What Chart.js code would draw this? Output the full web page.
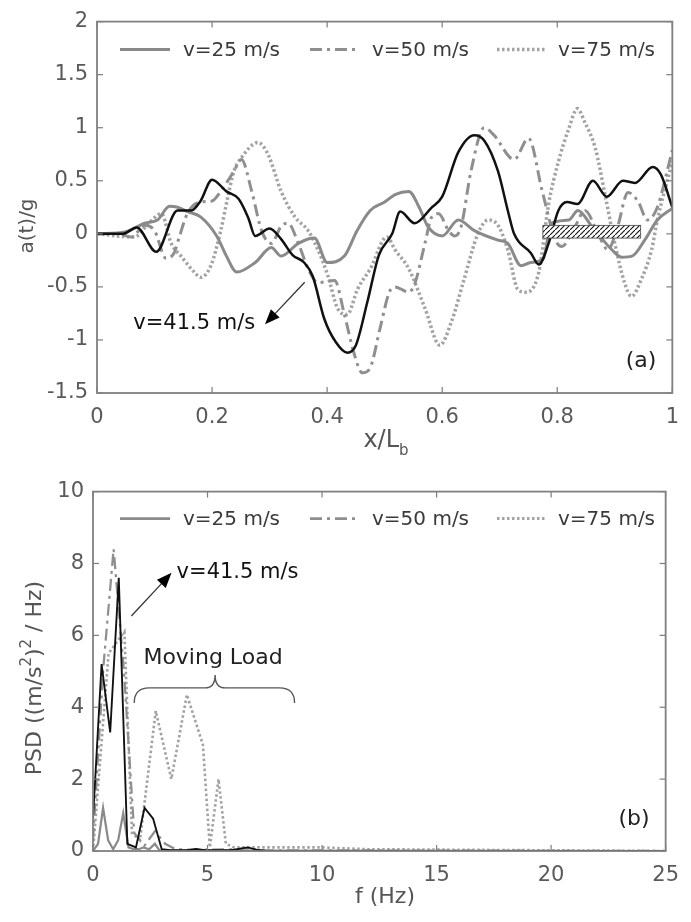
<!DOCTYPE html>
<html>
<head>
<meta charset="utf-8">
<script src="https://cdn.jsdelivr.net/npm/chart.js@4.4.0/dist/chart.umd.min.js"></script>
<style>
  body { margin: 0; background: #fff; }
  #wrap { position: relative; width: 691px; height: 922px; }
  .pane { position: absolute; left: 0; }
</style>
</head>
<body>
<div id="wrap">
  <canvas id="accel" class="pane" style="top:0" width="691" height="470"></canvas>
  <canvas id="psd" class="pane" style="top:470px" width="691" height="452"></canvas>
</div>
<script>
// ---- (a) acceleration along the bridge, x/Lb ----
var seriesNames = ['v=25 m/s', 'v=50 m/s', 'v=75 m/s', 'v=41.5 m/s'];

var accX25 = [0, 0.05, 0.083, 0.105, 0.126, 0.14, 0.157, 0.18, 0.208, 0.225, 0.243, 0.275, 0.303, 0.32, 0.35, 0.378, 0.40, 0.43, 0.452, 0.475, 0.50, 0.518, 0.542, 0.56, 0.575, 0.6, 0.628, 0.656, 0.697, 0.714, 0.737, 0.754, 0.775, 0.79, 0.82, 0.836, 0.86, 0.895, 0.912, 0.93, 0.952, 0.974, 1.0];
var accY25 = [0, 0.02, 0.1, 0.13, 0.26, 0.25, 0.21, 0.16, -0.02, -0.21, -0.36, -0.27, -0.13, -0.21, -0.09, -0.04, -0.27, -0.21, 0.03, 0.22, 0.30, 0.37, 0.40, 0.25, 0.07, -0.02, 0.13, 0.03, -0.06, -0.09, -0.30, -0.27, -0.24, 0.10, 0.13, 0.22, 0.07, -0.15, -0.22, -0.21, -0.06, 0.13, 0.24];

var accX50 = [0, 0.036, 0.06, 0.083, 0.1, 0.12, 0.134, 0.143, 0.157, 0.18, 0.2, 0.215, 0.238, 0.251, 0.269, 0.286, 0.303, 0.32, 0.332, 0.35, 0.367, 0.384, 0.413, 0.43, 0.447, 0.461, 0.475, 0.492, 0.508, 0.518, 0.542, 0.553, 0.57, 0.582, 0.594, 0.611, 0.622, 0.633, 0.65, 0.673, 0.69, 0.725, 0.75, 0.774, 0.797, 0.808, 0.831, 0.848, 0.871, 0.888, 0.905, 0.923, 0.94, 0.957, 0.974, 0.991, 1.0];
var accY50 = [0, 0, -0.03, 0.08, 0.03, -0.23, -0.18, -0.03, 0.19, 0.30, 0.31, 0.40, 0.59, 0.70, 0.40, 0.03, -0.09, 0.07, 0.10, -0.09, -0.33, -0.46, -0.44, -0.76, -1.13, -1.31, -1.26, -0.89, -0.55, -0.50, -0.55, -0.46, -0.09, 0.16, 0.19, 0.03, -0.02, 0.07, 0.59, 1.0, 0.93, 0.70, 0.90, 0.40, -0.06, -0.12, 0.07, 0.22, 0, -0.15, 0.07, 0.39, 0.31, 0.13, 0.25, 0.59, 0.79];

var accX75 = [0, 0.065, 0.09, 0.112, 0.129, 0.146, 0.169, 0.18, 0.198, 0.215, 0.226, 0.238, 0.25, 0.28, 0.298, 0.32, 0.344, 0.367, 0.384, 0.401, 0.418, 0.435, 0.453, 0.475, 0.504, 0.518, 0.542, 0.57, 0.596, 0.616, 0.638, 0.662, 0.68, 0.697, 0.714, 0.731, 0.745, 0.768, 0.785, 0.802, 0.82, 0.835, 0.848, 0.866, 0.883, 0.9, 0.917, 0.929, 0.946, 0.964, 0.974, 1.0];
var accY75 = [0, -0.03, 0.1, 0.19, -0.09, -0.21, -0.36, -0.41, -0.30, 0.03, 0.31, 0.59, 0.71, 0.86, 0.74, 0.40, 0.16, 0.03, -0.15, -0.39, -0.70, -0.76, -0.52, -0.33, -0.03, -0.15, -0.33, -0.70, -1.05, -0.83, -0.43, 0, 0.13, 0.08, -0.15, -0.52, -0.55, -0.36, 0.28, 0.68, 0.99, 1.18, 1.05, 0.81, 0.37, -0.09, -0.46, -0.59, -0.43, -0.15, 0.13, 0.68];

var accX415 = [0, 0.045, 0.069, 0.103, 0.14, 0.164, 0.18, 0.2, 0.225, 0.246, 0.263, 0.275, 0.30, 0.32, 0.34, 0.36, 0.375, 0.395, 0.415, 0.435, 0.45, 0.47, 0.49, 0.513, 0.527, 0.552, 0.582, 0.6, 0.628, 0.656, 0.673, 0.697, 0.714, 0.725, 0.754, 0.768, 0.785, 0.802, 0.817, 0.835, 0.862, 0.886, 0.914, 0.935, 0.966, 0.98, 1.0];
var accY415 = [0, 0, 0.06, -0.17, 0.22, 0.22, 0.31, 0.51, 0.40, 0.33, 0.15, -0.02, 0.05, -0.05, -0.2, -0.27, -0.4, -0.8, -1.02, -1.12, -1.05, -0.64, -0.2, 0, 0.21, 0.10, 0.25, 0.35, 0.77, 0.93, 0.88, 0.59, 0.22, 0, -0.18, -0.29, -0.09, 0.22, 0.30, 0.28, 0.50, 0.35, 0.50, 0.48, 0.63, 0.56, 0.25];

var accTicksX = [0, 0.2, 0.4, 0.6, 0.8, 1];
var accTicksY = [-1.5, -1, -0.5, 0, 0.5, 1, 1.5, 2];
var hatchBox = { x0: 0.775, x1: 0.945, y0: -0.04, y1: 0.08 };

// ---- (b) power spectral density ----
var psdF25 = [0, 0.22, 0.44, 0.66, 0.88, 1.1, 1.32, 1.55, 1.77, 2.0, 2.2, 2.45, 2.7, 2.9, 3.5, 5, 25];
var psdV25 = [0, 0.2, 1.2, 0.3, 0.05, 0.3, 1.05, 0.1, 0.05, 0.05, 0.1, 0.05, 0.2, 0.02, 0.01, 0.01, 0];

var psdF50 = [0, 0.45, 0.9, 1.35, 1.8, 2.25, 2.7, 3.15, 3.6, 4.5, 6.3, 6.75, 7.2, 25];
var psdV50 = [0.3, 5.1, 8.4, 5.0, 0.5, 0.15, 0.55, 0.2, 0.05, 0.03, 0.05, 0.08, 0.02, 0];

var psdF75 = [0, 0.68, 1.37, 1.7, 2.05, 2.74, 3.42, 4.1, 4.8, 5.1, 5.48, 5.8, 6.16, 8, 10, 12, 25];
var psdV75 = [0, 5.5, 6.1, 0.5, 0.3, 3.9, 2.0, 4.35, 2.95, 0.1, 2.0, 0.2, 0.1, 0.1, 0.1, 0.05, 0];

var psdF415 = [0, 0.375, 0.75, 1.125, 1.5, 1.875, 2.25, 2.625, 3.0, 3.375, 4.125, 4.5, 4.875, 6.0, 6.375, 6.75, 7.125, 7.5, 25];
var psdV415 = [0.9, 5.2, 3.3, 7.6, 0.2, 0.1, 1.2, 0.9, 0.05, 0.02, 0.02, 0.06, 0.02, 0.02, 0.06, 0.1, 0.04, 0.01, 0];

var psdTicksX = [0, 5, 10, 15, 20, 25];
var psdTicksY = [0, 2, 4, 6, 8, 10];

var FONT = '"DejaVu Sans", "Liberation Sans", sans-serif';

function pts(xs, ys) {
  return xs.map(function (x, i) { return { x: x, y: ys[i] }; });
}

// line looks per series: v=25, v=50, v=75, v=41.5
var looks = [
  { color: '#8a8a8a', dash: [], width: 3 },
  { color: '#8f8f8f', dash: [12, 5, 3, 5], width: 3 },
  { color: '#a3a3a3', dash: [2.5, 2.5], width: 3.5 },
  { color: '#111111', dash: [], width: 2.5 }
];

function makeSets(pairs, widthScale, smooth) {
  // black first so it is painted on top
  var order = [3, 0, 1, 2];
  return order.map(function (k) {
    var lk = looks[k];
    return {
      label: seriesNames[k],
      data: pairs[k],
      borderColor: lk.color,
      borderDash: lk.dash,
      borderWidth: lk.width * widthScale,
      pointRadius: 0,
      fill: false,
      cubicInterpolationMode: smooth ? 'monotone' : 'default',
      tension: 0
    };
  });
}

function line(ctx, x0, y0, x1, y1) {
  ctx.beginPath(); ctx.moveTo(x0, y0); ctx.lineTo(x1, y1); ctx.stroke();
}

function arrow(ctx, x0, y0, x1, y1) {
  var ang = Math.atan2(y1 - y0, x1 - x0), L = 15, W = 6;
  ctx.strokeStyle = '#333'; ctx.lineWidth = 1.3;
  line(ctx, x0, y0, x1 - Math.cos(ang) * L * 0.8, y1 - Math.sin(ang) * L * 0.8);
  ctx.fillStyle = '#000';
  ctx.beginPath();
  ctx.moveTo(x1, y1);
  ctx.lineTo(x1 - Math.cos(ang) * L - Math.sin(ang) * W, y1 - Math.sin(ang) * L + Math.cos(ang) * W);
  ctx.lineTo(x1 - Math.cos(ang) * L + Math.sin(ang) * W, y1 - Math.sin(ang) * L - Math.cos(ang) * W);
  ctx.closePath(); ctx.fill();
}

// legend samples and label positions (pixels)
var legendSlots = [[120, 170, 183], [310, 357, 372], [497, 545, 558]];

var decor = {
  id: 'decor',
  afterDraw: function (chart, args, o) {
    var ctx = chart.ctx, a = chart.chartArea, sx = chart.scales.x, sy = chart.scales.y;
    ctx.save();
    // inward ticks on all four sides
    ctx.strokeStyle = '#7d7d7d'; ctx.lineWidth = 1.2;
    sx.ticks.forEach(function (t) {
      var p = sx.getPixelForValue(t.value);
      line(ctx, p, a.bottom, p, a.bottom - 6);
      line(ctx, p, a.top, p, a.top + 6);
    });
    sy.ticks.forEach(function (t) {
      var p = sy.getPixelForValue(t.value);
      line(ctx, a.left, p, a.left + 6, p);
      line(ctx, a.right, p, a.right - 6, p);
    });
    ctx.lineWidth = 1.8; ctx.strokeStyle = '#808080';
    ctx.strokeRect(a.left, a.top, a.right - a.left, a.bottom - a.top);

    // legend across the top
    var ly = a.top + o.legendDy;
    ctx.font = '20px ' + FONT; ctx.textBaseline = 'middle'; ctx.textAlign = 'left';
    [0, 1, 2].forEach(function (k) {
      var s = legendSlots[k], lk = looks[k];
      ctx.strokeStyle = lk.color; ctx.lineWidth = lk.width * o.widthScale; ctx.setLineDash(lk.dash);
      line(ctx, s[0], ly, s[1], ly);
      ctx.setLineDash([]);
      ctx.fillStyle = '#3a3a3a';
      ctx.fillText(seriesNames[k], s[2], ly + 1);
    });

    // hatched marker
    if (o.hatch) {
      var hb = o.hatch;
      var pc = document.createElement('canvas'); pc.width = 5; pc.height = 5;
      var pctx = pc.getContext('2d');
      pctx.strokeStyle = '#111'; pctx.lineWidth = 1.1;
      line(pctx, -1, 6, 6, -1);
      var hx0 = sx.getPixelForValue(hb.x0), hx1 = sx.getPixelForValue(hb.x1);
      var hy0 = sy.getPixelForValue(hb.y1), hy1 = sy.getPixelForValue(hb.y0);
      ctx.fillStyle = '#fff'; ctx.fillRect(hx0, hy0, hx1 - hx0, hy1 - hy0);
      ctx.fillStyle = ctx.createPattern(pc, 'repeat');
      ctx.fillRect(hx0, hy0, hx1 - hx0, hy1 - hy0);
      ctx.strokeStyle = '#444'; ctx.lineWidth = 0.8;
      ctx.strokeRect(hx0, hy0, hx1 - hx0, hy1 - hy0);
    }

    // arrow note for v=41.5
    var n = o.note;
    arrow(ctx, sx.getPixelForValue(n.from[0]), sy.getPixelForValue(n.from[1]),
      sx.getPixelForValue(n.tip[0]), sy.getPixelForValue(n.tip[1]));
    ctx.font = '21px ' + FONT; ctx.fillStyle = '#111'; ctx.textAlign = n.align;
    ctx.fillText(seriesNames[3], sx.getPixelForValue(n.text[0]), sy.getPixelForValue(n.text[1]));

    // Moving Load brace
    if (o.brace) {
      var b = o.brace;
      var bx0 = sx.getPixelForValue(b.x0), bx1 = sx.getPixelForValue(b.x1), bxm = sx.getPixelForValue(b.xm);
      var byTop = sy.getPixelForValue(b.yTip), byArm = byTop + 13, byEnd = byTop + 28, r = 10;
      ctx.strokeStyle = '#555'; ctx.lineWidth = 1.4;
      ctx.beginPath();
      ctx.moveTo(bx0, byEnd);
      ctx.quadraticCurveTo(bx0, byArm, bx0 + r * 1.5, byArm);
      ctx.lineTo(bxm - r, byArm);
      ctx.quadraticCurveTo(bxm, byArm, bxm, byTop);
      ctx.quadraticCurveTo(bxm, byArm, bxm + r, byArm);
      ctx.lineTo(bx1 - r * 1.5, byArm);
      ctx.quadraticCurveTo(bx1, byArm, bx1, byEnd);
      ctx.stroke();
      ctx.font = '22px ' + FONT; ctx.fillStyle = '#222'; ctx.textAlign = 'center';
      ctx.fillText('Moving Load', sx.getPixelForValue(b.textX), sy.getPixelForValue(b.textY));
    }

    // panel tag
    ctx.font = '22px ' + FONT; ctx.fillStyle = '#222'; ctx.textAlign = 'right';
    ctx.fillText(o.tag, a.right - 16, a.bottom - 32);

    // axis titles
    ctx.fillStyle = '#555'; ctx.textAlign = 'center';
    ctx.font = o.xTitleSize + 'px ' + FONT;
    if (o.xSub) {
      var wMain = ctx.measureText(o.xTitle).width;
      ctx.font = '15px ' + FONT;
      var wSub = ctx.measureText(o.xSub).width;
      var start = o.xTitlePos[0] - (wMain + wSub) / 2;
      ctx.textAlign = 'left';
      ctx.font = o.xTitleSize + 'px ' + FONT;
      ctx.fillText(o.xTitle, start, o.xTitlePos[1]);
      ctx.font = '15px ' + FONT;
      ctx.fillText(o.xSub, start + wMain, o.xTitlePos[1] + 10);
    } else {
      ctx.fillText(o.xTitle, o.xTitlePos[0], o.xTitlePos[1]);
    }
    ctx.save();
    ctx.translate(o.yTitlePos[0], o.yTitlePos[1]);
    ctx.rotate(-Math.PI / 2);
    ctx.textAlign = 'center';
    if (o.yParts) {
      // PSD ((m/s^2)^2 / Hz) with raised exponents
      var total = 0;
      o.yParts.forEach(function (p) { ctx.font = (p.sup ? 15 : 22) + 'px ' + FONT; total += ctx.measureText(p.t).width; });
      var cx = -total / 2;
      ctx.textAlign = 'left';
      o.yParts.forEach(function (p) {
        ctx.font = (p.sup ? 15 : 22) + 'px ' + FONT;
        ctx.fillText(p.t, cx, p.sup ? -8 : 0);
        cx += ctx.measureText(p.t).width;
      });
    } else {
      ctx.font = '20px ' + FONT;
      ctx.fillText(o.yTitle, 0, 0);
    }
    ctx.restore();
    ctx.restore();
  }
};

function axisCfg(min, max, ticksList, fitSize, isX) {
  return {
    type: 'linear',
    min: min, max: max,
    afterBuildTicks: function (s) { s.ticks = ticksList.map(function (v) { return { value: v }; }); },
    afterFit: function (s) { if (isX) s.height = fitSize; else s.width = fitSize; },
    grid: { display: false, drawTicks: false },
    border: { display: false },
    ticks: {
      color: '#5a5a5a',
      font: { family: FONT, size: 21 },
      padding: isX ? 12 : 9,
      maxRotation: 0,
      autoSkip: false,
      callback: function (v) { return String(v); }
    }
  };
}

Chart.register(decor);

new Chart(document.getElementById('accel'), {
  type: 'line',
  data: { datasets: makeSets([pts(accX25, accY25), pts(accX50, accY50), pts(accX75, accY75), pts(accX415, accY415)], 1, true) },
  options: {
    responsive: false, animation: false,
    layout: { padding: { top: 14, right: 13, left: 0, bottom: 0 } },
    plugins: {
      legend: { display: false }, tooltip: { enabled: false },
      decor: {
        legendDy: 28, widthScale: 1, tag: '(a)',
        hatch: hatchBox,
        note: { from: [0.361, -0.456], tip: [0.292, -0.853], text: [0.275, -0.85], align: 'right' },
        xTitle: 'x/L', xSub: 'b', xTitleSize: 24, xTitlePos: [386, 441],
        yTitle: 'a(t)/g', yTitlePos: [28, 226]
      }
    },
    scales: {
      x: axisCfg(0, 1, accTicksX, 77, true),
      y: axisCfg(-1.5, 2, accTicksY, 97, false)
    }
  }
});

new Chart(document.getElementById('psd'), {
  type: 'line',
  data: { datasets: makeSets([pts(psdF25, psdV25), pts(psdF50, psdV50), pts(psdF75, psdV75), pts(psdF415, psdV415)], 0.75, false) },
  options: {
    responsive: false, animation: false,
    layout: { padding: { top: 5, right: 16, left: 0, bottom: 0 } },
    plugins: {
      legend: { display: false }, tooltip: { enabled: false },
      decor: {
        legendDy: 27, widthScale: 0.85, tag: '(b)',
        note: { from: [1.675, 6.54], tip: [3.43, 7.74], text: [3.65, 7.74], align: 'left' },
        brace: { x0: 1.8, x1: 8.8, xm: 5.33, yTip: 4.9, textX: 5.24, textY: 5.35 },
        xTitle: 'f (Hz)', xTitleSize: 22, xTitlePos: [385, 427],
        yParts: [{ t: 'PSD ((m/s' }, { t: '2', sup: true }, { t: ')' }, { t: '2', sup: true }, { t: ' / Hz)' }],
        yTitlePos: [35, 208]
      }
    },
    scales: {
      x: axisCfg(0, 25, psdTicksX, 71, true),
      y: axisCfg(0, 10, psdTicksY, 93, false)
    }
  }
});
</script>
</body>
</html>
